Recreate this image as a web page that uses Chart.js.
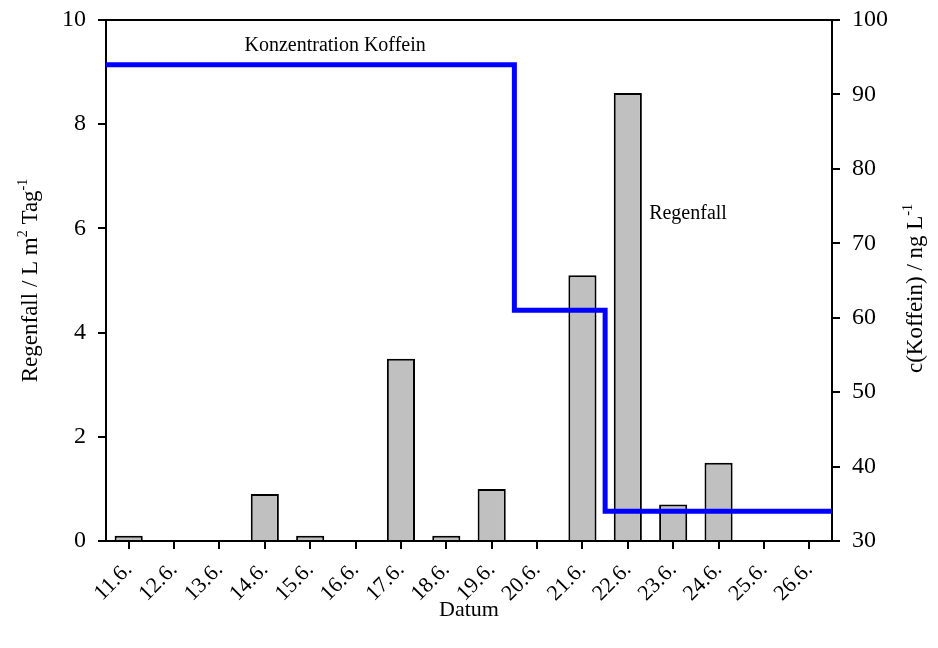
<!DOCTYPE html>
<html>
<head>
<meta charset="utf-8">
<script src="https://cdn.jsdelivr.net/npm/chart.js@4/dist/chart.umd.min.js"></script>
<style>
  html, body { margin: 0; padding: 0; background: #fff; }
  #wrap { width: 938px; height: 648px; }
</style>
</head>
<body>
<div id="wrap"><canvas id="myChart"></canvas></div>
<script>
// data
const days = ['11.6.', '12.6.', '13.6.', '14.6.', '15.6.', '16.6.', '17.6.', '18.6.',
              '19.6.', '20.6.', '21.6.', '22.6.', '23.6.', '24.6.', '25.6.', '26.6.'];
const regenfall = [0.1, null, null, 0.9, 0.1, null, 3.5, 0.1, 1.0, null, 5.1, 8.6, 0.7, 1.5, null, null];

// caffeine step line: x in category index units (-0.5 = left edge)
const koffeinX = [-0.5, 8.5, 10.5, 15.5];
const koffeinY = [94, 61, 34, 34];

const leftTicks = { min: 0, max: 10, step: 2 };
const rightTicks = { min: 30, max: 100, step: 10 };

const FONT = 'Liberation Serif, Times New Roman, serif';
Chart.defaults.font.family = FONT;
Chart.defaults.color = '#000';

// draws text with superscript parts, centered on (0,0) of the current transform
function drawRich(ctx, parts, size) {
    const supSize = Math.round(size * 0.6);
    let total = 0;
    parts.forEach(p => {
        ctx.font = (p.sup ? supSize : size) + 'px ' + FONT;
        p.w = ctx.measureText(p.t).width;
        total += p.w;
    });
    let x = -total / 2;
    ctx.textAlign = 'left';
    ctx.textBaseline = 'alphabetic';
    parts.forEach(p => {
        ctx.font = (p.sup ? supSize : size) + 'px ' + FONT;
        ctx.fillText(p.t, x, p.sup ? -size * 0.45 : 0);
        x += p.w;
    });
}

const extras = {
    id: 'extras',
    afterDraw(chart) {
        const ctx = chart.ctx;
        const a = chart.chartArea;
        const s = chart.scales;
        ctx.save();
        ctx.fillStyle = '#000';
        ctx.strokeStyle = '#000';

        // top frame line
        ctx.lineWidth = 2;
        ctx.beginPath();
        ctx.moveTo(a.left - 1, a.top);
        ctx.lineTo(a.right + 1, a.top);
        ctx.stroke();

        // annotations
        ctx.font = '20px ' + FONT;
        ctx.textBaseline = 'alphabetic';
        ctx.textAlign = 'center';
        ctx.fillText('Konzentration Koffein', s.xl.getPixelForValue(4.55), s.y2.getPixelForValue(95.8));
        ctx.textAlign = 'left';
        ctx.fillText('Regenfall', s.xl.getPixelForValue(11.47), s.y.getPixelForValue(6.18));

        // x title
        ctx.font = '22px ' + FONT;
        ctx.textAlign = 'center';
        ctx.fillText('Datum', (a.left + a.right) / 2, 616);

        const midY = (a.top + a.bottom) / 2;
        // left title
        ctx.save();
        ctx.translate(37, midY);
        ctx.rotate(-Math.PI / 2);
        drawRich(ctx, [{ t: 'Regenfall / L m' }, { t: '2', sup: true }, { t: ' Tag' }, { t: '-1', sup: true }], 23);
        ctx.restore();

        // right title
        ctx.save();
        ctx.translate(922, midY + 8);
        ctx.rotate(-Math.PI / 2);
        drawRich(ctx, [{ t: 'c(Koffein) / ng L' }, { t: '-1', sup: true }], 23);
        ctx.restore();

        ctx.restore();
    }
};

const tickFont = { size: 24, family: FONT };
const axisGrid = { drawOnChartArea: false, drawTicks: true, tickLength: 8, color: '#000', lineWidth: 2 };
const axisBorder = { display: true, color: '#000', width: 2 };

function fixY(scale) {
    scale.width = 106;
    scale.paddingTop = 0;
    scale.paddingBottom = 0;
}

const ctx = document.getElementById('myChart').getContext('2d');
new Chart(ctx, {
    type: 'bar',
    data: {
        labels: days,
        datasets: [
            {
                type: 'line',
                label: 'Konzentration Koffein',
                data: koffeinX.map((x, i) => ({ x: x, y: koffeinY[i] })),
                xAxisID: 'xl',
                yAxisID: 'y2',
                borderColor: '#0000ff',
                borderWidth: 5,
                pointRadius: 0,
                stepped: true,
                fill: false,
                order: 0
            },
            {
                label: 'Regenfall',
                data: regenfall,
                xAxisID: 'x',
                yAxisID: 'y',
                backgroundColor: '#c0c0c0',
                borderColor: '#000',
                borderWidth: 2,
                grouped: false,
                barPercentage: 0.62,
                categoryPercentage: 1,
                order: 1
            }
        ]
    },
    options: {
        responsive: true,
        maintainAspectRatio: false,
        animation: false,
        layout: { padding: { top: 20, left: 0, right: 0, bottom: 0 } },
        plugins: {
            legend: { display: false },
            tooltip: { enabled: false }
        },
        scales: {
            x: {
                type: 'category',
                offset: true,
                grid: { ...axisGrid, offset: false },
                border: axisBorder,
                ticks: { font: { size: 22, family: FONT }, color: '#000', maxRotation: 45, minRotation: 45, padding: 8 },
                afterFit: scale => { scale.height = 107; }
            },
            xl: {
                type: 'linear',
                display: false,
                offset: false,
                min: -0.5,
                max: 15.5
            },
            y: {
                position: 'left',
                min: leftTicks.min,
                max: leftTicks.max,
                grid: axisGrid,
                border: axisBorder,
                ticks: { stepSize: leftTicks.step, font: tickFont, color: '#000', padding: 12 },
                afterFit: fixY
            },
            y2: {
                position: 'right',
                min: rightTicks.min,
                max: rightTicks.max,
                grid: axisGrid,
                border: axisBorder,
                ticks: { stepSize: rightTicks.step, font: tickFont, color: '#000', padding: 12 },
                afterFit: fixY
            }
        }
    },
    plugins: [extras]
});
</script>
</body>
</html>
